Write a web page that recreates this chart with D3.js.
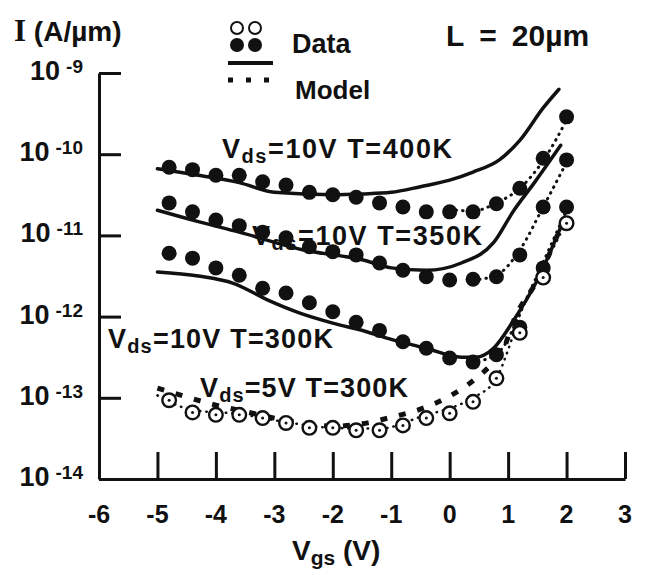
<!DOCTYPE html>
<html>
<head>
<meta charset="utf-8">
<script src="https://cdn.jsdelivr.net/npm/d3@7"></script>
<style>
  body { margin: 0; background: #fff; }
  svg text { font-family: "Liberation Sans", Arial, sans-serif; font-weight: bold; fill: #111; }
</style>
</head>
<body>
<div id="chart"></div>
<script>
// gate voltage of the measured points (V)
var vgsData = [-4.8, -4.4, -4.0, -3.6, -3.2, -2.8, -2.4, -2.0, -1.6, -1.2, -0.8, -0.4, 0, 0.4, 0.8, 1.2, 1.6, 2.0];
// measured leakage, log10(I) in A/um
var data400K = [-10.16, -10.19, -10.26, -10.26, -10.34, -10.38, -10.47, -10.50, -10.53, -10.60, -10.65, -10.71, -10.71, -10.71, -10.61, -10.42, -10.05, -9.54];
var data350K = [-10.60, -10.71, -10.81, -10.88, -10.96, -11.03, -11.14, -11.20, -11.24, -11.34, -11.43, -11.51, -11.55, -11.54, -11.51, -11.24, -10.65, -10.07];
var data300K = [-11.22, -11.28, -11.40, -11.49, -11.65, -11.71, -11.83, -11.94, -12.07, -12.17, -12.31, -12.39, -12.51, -12.56, -12.47, -12.13, -11.40, -10.65];
var data5V   = [-13.03, -13.18, -13.21, -13.21, -13.25, -13.31, -13.37, -13.37, -13.40, -13.40, -13.34, -13.25, -13.19, -13.05, -12.76, -12.20, -11.52, -10.85];

// model curves (solid)
var vgs400Solid   = [-5, -4.3, -3.6, -3, -2, -1.5, -1, -0.5, 0, 0.4, 0.85, 1.2, 1.6, 1.87];
var model400Solid = [-10.18, -10.26, -10.35, -10.47, -10.50, -10.49, -10.47, -10.40, -10.32, -10.22, -10.07, -9.83, -9.43, -9.20];
var vgs350Solid   = [-5, -4.3, -3.6, -2.5, -1.5, -1, -0.4, 0.2, 0.75, 1.1, 1.45, 1.9];
var model350Solid = [-10.69, -10.83, -10.96, -11.18, -11.30, -11.40, -11.43, -11.34, -11.09, -10.69, -10.35, -9.89];
var vgs300Solid   = [-5, -4.3, -3.7, -3.1, -2.55, -2, -1.45, -1, -0.4, 0.2, 0.45, 0.75, 1.1, 1.5, 1.9];
var model300Solid = [-11.45, -11.50, -11.59, -11.80, -11.96, -12.08, -12.18, -12.28, -12.39, -12.50, -12.50, -12.39, -12.04, -11.55, -10.90];

// model curves (dotted)
var vgs400Dot   = [0, 0.4, 0.8, 1.2, 1.6, 2.0];
var model400Dot = [-10.68, -10.70, -10.60, -10.42, -10.08, -9.58];
var vgs350Dot   = [0.4, 0.8, 1.2, 1.6, 2.0];
var model350Dot = [-11.55, -11.49, -11.18, -10.65, -10.10];
var vgs300Dot   = [0.6, 0.9, 1.3, 1.6, 2.0];
var model300Dot = [-12.53, -12.39, -11.80, -11.33, -10.69];
var vgs5VDot    = [-5, -4.4, -3.6, -2.8, -2, -1.2, -0.4, 0, 0.4, 0.8, 1.0, 1.2, 1.6, 2.0];
var model5VDot  = [-12.97, -13.15, -13.20, -13.30, -13.37, -13.38, -13.21, -13.13, -13.00, -12.76, -12.41, -11.98, -11.40, -10.83];
// Vds = 5V model (heavy dashes)
var vgs5VDash   = [-5, -4.5, -4, -3.5, -3, -2.5, -2, -1.5, -1, -0.5, 0, 0.4, 0.7, 0.9, 1.1, 1.5, 1.9];
var model5VDash = [-12.88, -12.99, -13.09, -13.17, -13.25, -13.31, -13.35, -13.32, -13.24, -13.14, -12.98, -12.79, -12.60, -12.44, -12.04, -11.55, -10.90];

// axis ticks
var xTicks = [-6, -5, -4, -3, -2, -1, 0, 1, 2, 3];
var yTickExp = [-9, -10, -11, -12, -13, -14];

// curve labels
var curveLabels = [
  {vds: "10V", temp: "400K"},
  {vds: "10V", temp: "350K"},
  {vds: "10V", temp: "300K"},
  {vds: "5V", temp: "300K"}
];
var labelPos = [
  {x: 222, y: 158, w: 230},
  {x: 252, y: 245, w: 230},
  {x: 108, y: 348, w: 225},
  {x: 200, y: 397, w: 208}
];

var width = 645;
var height = 575;

var svg = d3.select("#chart").append("svg")
  .attr("width", width)
  .attr("height", height);

var x = d3.scaleLinear().domain([-6, 3]).range([99, 625]);
var y = d3.scaleLog().domain([1e-14, 1e-9]).range([479, 73]);

function pairs(xs, ys) {
  return xs.map(function(v, i) { return [v, Math.pow(10, ys[i])]; });
}

var line = d3.line()
  .x(function(d) { return x(d[0]); })
  .y(function(d) { return y(d[1]); })
  .curve(d3.curveMonotoneX);

// axes
var yAxis = d3.axisLeft(y)
  .tickValues(yTickExp.map(function(e) { return Math.pow(10, e); }))
  .tickSize(-22)
  .tickSizeOuter(0)
  .tickFormat("");
svg.append("g").attr("transform", "translate(" + x(-6) + ",0)").call(yAxis);

var xAxis = d3.axisBottom(x)
  .tickValues(xTicks.slice(1))
  .tickSize(-27)
  .tickSizeOuter(0)
  .tickFormat("");
svg.append("g").attr("transform", "translate(0," + y(1e-14) + ")").call(xAxis);

svg.selectAll(".domain, .tick line")
  .attr("stroke", "#111")
  .attr("stroke-width", 3);

// y tick labels 10^-n
var ylab = svg.selectAll(".ylab").data(yTickExp).enter().append("text")
  .attr("class", "ylab")
  .attr("text-anchor", "end")
  .attr("x", 83)
  .attr("y", function(d) { return y(Math.pow(10, d)) + 7; });
ylab.append("tspan").style("font-size", "27px").text("10");
ylab.append("tspan").style("font-size", "19px").attr("dx", 6).attr("dy", -7).text(function(d) { return String(d); });

// x tick labels
svg.selectAll(".xlab").data(xTicks).enter().append("text")
  .attr("class", "xlab")
  .attr("text-anchor", "middle")
  .attr("x", function(d) { return x(d); })
  .attr("y", 523)
  .style("font-size", "25px")
  .text(function(d) { return String(d); });

// x axis title
var xt = svg.append("text").attr("x", 292).attr("y", 560).style("font-size", "28px");
xt.append("tspan").text("V");
xt.append("tspan").style("font-size", "21px").attr("dy", 5).text("gs");
xt.append("tspan").attr("dy", -5).text(" (V)");

// y axis title
var yt = svg.append("text").attr("x", 14).attr("y", 41).style("font-size", "28px");
yt.append("tspan").style("font-family", "'Liberation Serif', serif").style("font-size", "31px").text("I");
yt.append("tspan").text(" (A/µm)");

var lt = svg.append("text").attr("x", 446).attr("y", 46).style("font-size", "30px");
lt.append("tspan").text("L");
lt.append("tspan").attr("dx", 15).text("=");
lt.append("tspan").attr("dx", 15).text("20µm");

// curve labels (behind the marks, as in the print)
svg.selectAll(".clab").data(curveLabels).enter().append("text")
  .attr("class", "clab")
  .attr("x", function(d, i) { return labelPos[i].x; })
  .attr("y", function(d, i) { return labelPos[i].y; })
  .attr("textLength", function(d, i) { return labelPos[i].w; })
  .attr("lengthAdjust", "spacing")
  .style("font-size", "27px")
  .each(function(d) {
    var t = d3.select(this);
    t.append("tspan").text("V");
    t.append("tspan").style("font-size", "20px").attr("dy", 5).text("ds");
    t.append("tspan").attr("dy", -5).text("=" + d.vds + " T=" + d.temp);
  });

// model lines
function drawLine(xs, ys, w, dash, cap) {
  svg.append("path")
    .datum(pairs(xs, ys))
    .attr("fill", "none")
    .attr("stroke", "#111")
    .attr("stroke-width", w)
    .attr("stroke-dasharray", dash)
    .attr("stroke-linecap", cap)
    .attr("d", line);
}
drawLine(vgs400Solid, model400Solid, 3.5, null, "round");
drawLine(vgs350Solid, model350Solid, 3.5, null, "round");
drawLine(vgs300Solid, model300Solid, 3.5, null, "round");
drawLine(vgs400Dot, model400Dot, 3, "0.5,6", "round");
drawLine(vgs350Dot, model350Dot, 3, "0.5,6", "round");
drawLine(vgs300Dot, model300Dot, 3, "0.5,6", "round");
drawLine(vgs5VDot, model5VDot, 2.5, "0.5,6", "round");
drawLine(vgs5VDash, model5VDash, 5, "7,12", "butt");

// filled data points
[data400K, data350K, data300K].forEach(function(series) {
  svg.append("g").selectAll("circle")
    .data(pairs(vgsData, series))
    .enter().append("circle")
    .attr("cx", function(d) { return x(d[0]); })
    .attr("cy", function(d) { return y(d[1]); })
    .attr("r", 7.5)
    .attr("fill", "#111");
});

// open data points (Vds = 5V)
var open = svg.append("g").selectAll("g")
  .data(pairs(vgsData, data5V))
  .enter().append("g")
  .attr("transform", function(d) { return "translate(" + x(d[0]) + "," + y(d[1]) + ")"; });
open.append("circle").attr("r", 6.8).attr("fill", "#fff").attr("stroke", "#111").attr("stroke-width", 2.4);
open.append("circle").attr("r", 1.5).attr("fill", "#111");

// legend
var legOpen = [[237, 28], [255, 28]];
var legFill = [[237, 45], [255, 45]];
svg.selectAll(".lo").data(legOpen).enter().append("circle")
  .attr("cx", function(d) { return d[0]; }).attr("cy", function(d) { return d[1]; })
  .attr("r", 6).attr("fill", "#fff").attr("stroke", "#111").attr("stroke-width", 2);
svg.selectAll(".lf").data(legFill).enter().append("circle")
  .attr("cx", function(d) { return d[0]; }).attr("cy", function(d) { return d[1]; })
  .attr("r", 7).attr("fill", "#111");
svg.append("text").attr("x", 292).attr("y", 53).style("font-size", "27px").text("Data");
svg.append("line").attr("x1", 228).attr("x2", 273).attr("y1", 63).attr("y2", 63)
  .attr("stroke", "#111").attr("stroke-width", 4);
svg.append("line").attr("x1", 228).attr("x2", 273).attr("y1", 80).attr("y2", 80)
  .attr("stroke", "#111").attr("stroke-width", 5).attr("stroke-dasharray", "5,13");
svg.append("text").attr("x", 295).attr("y", 99).style("font-size", "26px").text("Model");
</script>
</body>
</html>
